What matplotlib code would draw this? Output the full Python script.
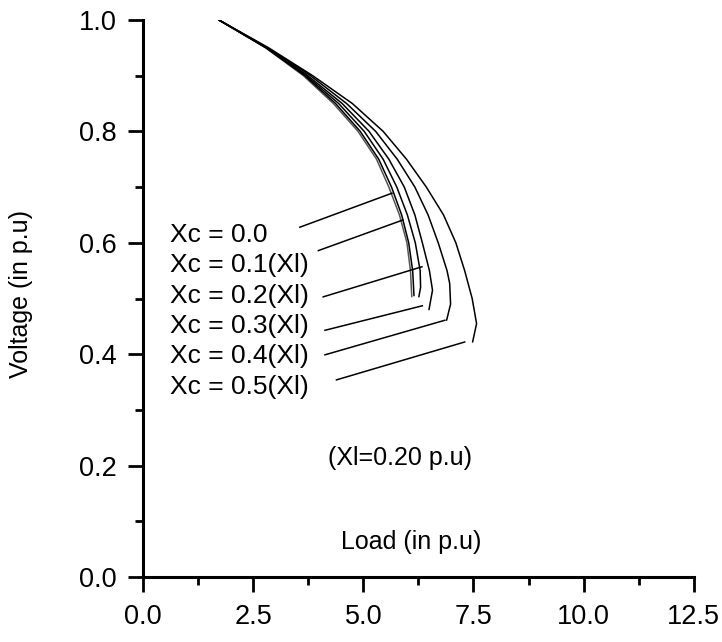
import numpy as np
import matplotlib.pyplot as plt
from matplotlib.ticker import MultipleLocator

plt.rcParams['font.family'] = ['Liberation Sans', 'DejaVu Sans']

# PV nose curves: load (p.u) read at voltage levels for each compensation level
labels = ['Xc = 0.0', 'Xc = 0.1(Xl)', 'Xc = 0.2(Xl)', 'Xc = 0.3(Xl)', 'Xc = 0.4(Xl)', 'Xc = 0.5(Xl)']

v_00 = [1.00, 0.95, 0.90, 0.85, 0.80, 0.75, 0.70, 0.65, 0.60, 0.55, 0.503]
p_00 = [1.72, 2.78, 3.64, 4.32, 4.88, 5.30, 5.58, 5.82, 5.99, 6.07, 6.10]

v_01 = [1.00, 0.95, 0.90, 0.85, 0.80, 0.75, 0.70, 0.65, 0.60, 0.55, 0.505]
p_01 = [1.72, 2.79, 3.67, 4.37, 4.93, 5.35, 5.64, 5.87, 6.03, 6.12, 6.15]

v_02 = [1.00, 0.95, 0.90, 0.85, 0.80, 0.75, 0.70, 0.65, 0.60, 0.55, 0.52, 0.503]
p_02 = [1.72, 2.80, 3.70, 4.44, 5.02, 5.45, 5.76, 6.00, 6.18, 6.29, 6.30, 6.26]

v_03 = [1.00, 0.95, 0.90, 0.85, 0.80, 0.75, 0.70, 0.65, 0.60, 0.55, 0.515, 0.48]
p_03 = [1.72, 2.81, 3.74, 4.52, 5.13, 5.58, 5.93, 6.17, 6.34, 6.50, 6.57, 6.49]

v_04 = [1.00, 0.95, 0.90, 0.85, 0.80, 0.75, 0.70, 0.65, 0.60, 0.55, 0.527, 0.49, 0.461]
p_04 = [1.72, 2.83, 3.80, 4.62, 5.28, 5.77, 6.17, 6.47, 6.70, 6.90, 6.96, 6.98, 6.89]

v_05 = [1.00, 0.95, 0.90, 0.85, 0.80, 0.75, 0.70, 0.65, 0.60, 0.55, 0.50, 0.455, 0.422]
p_05 = [1.72, 2.85, 3.85, 4.75, 5.45, 5.98, 6.43, 6.82, 7.10, 7.30, 7.47, 7.57, 7.48]

curves_p = [p_00, p_01, p_02, p_03, p_04, p_05]
curves_v = [v_00, v_01, v_02, v_03, v_04, v_05]

# leader lines (label end -> point on curve), in data units
leader_start_p = [3.56, 3.98, 4.09, 4.13, 4.13, 4.39]
leader_start_v = [0.628, 0.586, 0.503, 0.443, 0.399, 0.354]
leader_end_p = [5.65, 5.90, 6.33, 6.34, 6.85, 7.30]
leader_end_v = [0.689, 0.641, 0.557, 0.487, 0.461, 0.422]

fig = plt.figure(figsize=(7.22, 6.42), dpi=100)
ax = fig.add_axes([0.198, 0.101, 0.763, 0.868])

for i, (p, v) in enumerate(zip(curves_p, curves_v)):
    color = '#555555' if i == 0 else 'black'
    ax.plot(p, v, color=color, lw=1.1, solid_capstyle='round')

# labels with leader lines
label_x = 0.62
label_y0 = 0.614
label_dy = 0.0545
for i, lab in enumerate(labels):
    ax.text(label_x, label_y0 - i * label_dy, lab, fontsize=19, ha='left', va='center')
    ax.plot([leader_start_p[i], leader_end_p[i]], [leader_start_v[i], leader_end_v[i]],
            color='black', lw=1.1)

ax.text(4.2, 0.214, '(Xl=0.20 p.u)', fontsize=18, ha='left', va='center')
ax.text(4.5, 0.063, 'Load (in p.u)', fontsize=18, ha='left', va='center')

ax.set_xlim(0, 12.5)
ax.set_ylim(0, 1.0)
ax.set_ylabel('Voltage (in p.u)', fontsize=18)
ax.yaxis.set_label_coords(-0.2, 0.508)

ax.xaxis.set_major_locator(MultipleLocator(2.5))
ax.xaxis.set_minor_locator(MultipleLocator(1.25))
ax.yaxis.set_major_locator(MultipleLocator(0.2))
ax.yaxis.set_minor_locator(MultipleLocator(0.1))
ax.xaxis.set_major_formatter(plt.FormatStrFormatter('%.1f'))
ax.yaxis.set_major_formatter(plt.FormatStrFormatter('%.1f'))

ax.tick_params(which='major', direction='out', length=11, width=2, labelsize=19.5, pad=8)
ax.tick_params(which='minor', direction='out', length=6, width=2)

for side in ['top', 'right']:
    ax.spines[side].set_visible(False)
for side in ['left', 'bottom']:
    ax.spines[side].set_linewidth(2.2)

plt.savefig('out.png', dpi=100)
plt.close()
